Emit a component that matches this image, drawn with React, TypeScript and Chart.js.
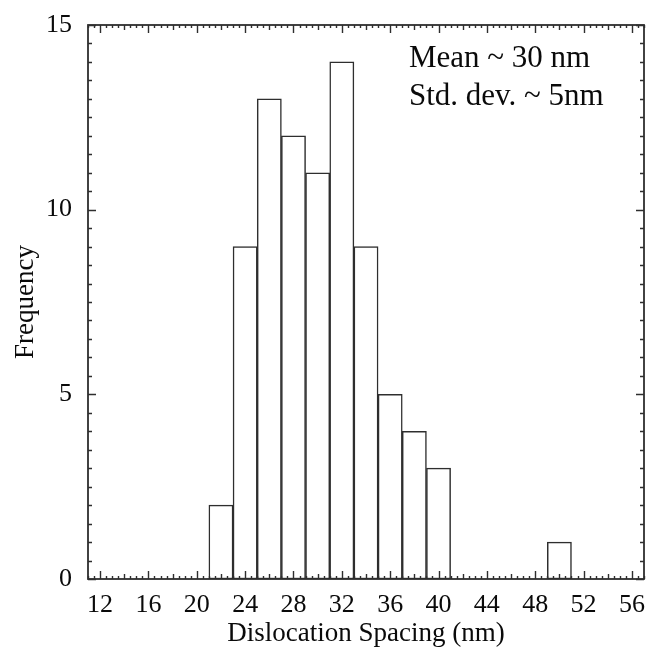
import React, { useEffect, useRef } from "react";
import { Chart, registerables } from "chart.js";

Chart.register(...registerables);

// ---- data ----
const BIN_CENTERS = [22, 24, 26, 28, 30, 32, 34, 36, 38, 40, 50];
const FREQUENCIES = [2, 9, 13, 12, 11, 14, 9, 5, 4, 3, 1];
const X_TICKS = [12, 16, 20, 24, 28, 32, 36, 40, 44, 48, 52, 56];
const Y_TICKS = [0, 5, 10, 15];
const X_MIN = 11;
const X_MAX = 57;
const Y_MIN = 0;
const Y_MAX = 15;
const X_TITLE = "Dislocation Spacing (nm)";
const Y_TITLE = "Frequency";
const NOTES = ["Mean ~ 30 nm", "Std. dev. ~ 5nm"];

const FONT = '"Liberation Serif", "Times New Roman", serif';
const INK = "#0a0a0a";
const LINE = "#2e2e2e";

const framePlugin = {
  id: "frameTicks",
  afterDraw(chart: any) {
    const { ctx, chartArea } = chart;
    const { left, right, top, bottom } = chartArea;
    const xs = chart.scales.x;
    const ys = chart.scales.y;
    ctx.save();
    ctx.strokeStyle = LINE;
    ctx.lineWidth = 1.8;
    ctx.strokeRect(left, top, right - left, bottom - top);

    ctx.lineWidth = 1.4;
    ctx.beginPath();
    for (let v = X_MIN; v <= X_MAX + 1e-9; v += 0.5) {
      const px = Math.round(xs.getPixelForValue(v)) + 0.5;
      const len = v % 4 === 0 ? 8 : v % 2 === 0 ? 5 : 3;
      ctx.moveTo(px, bottom);
      ctx.lineTo(px, bottom - len);
      ctx.moveTo(px, top);
      ctx.lineTo(px, top + len);
    }
    for (let v = Y_MIN; v <= Y_MAX + 1e-9; v += 0.5) {
      const py = Math.round(ys.getPixelForValue(v)) + 0.5;
      const len = v % 5 === 0 ? 8 : 4;
      ctx.moveTo(left, py);
      ctx.lineTo(left + len, py);
      ctx.moveTo(right, py);
      ctx.lineTo(right - len, py);
    }
    ctx.stroke();

    ctx.fillStyle = INK;
    ctx.font = `31px ${FONT}`;
    ctx.textAlign = "left";
    ctx.textBaseline = "alphabetic";
    ctx.fillText(NOTES[0], left + 321, top + 42);
    ctx.fillText(NOTES[1], left + 321, top + 80);
    ctx.restore();
  },
};

export default function App() {
  const ref = useRef<HTMLCanvasElement | null>(null);

  useEffect(() => {
    if (!ref.current) return;
    const chart = new Chart(ref.current, {
      type: "bar",
      data: {
        datasets: [
          {
            data: BIN_CENTERS.map((x, i) => ({ x, y: FREQUENCIES[i] })),
            backgroundColor: "#ffffff",
            borderColor: LINE,
            borderWidth: 1.5,
            borderSkipped: false,
            barPercentage: 1,
            categoryPercentage: 1,
          },
        ],
      },
      options: {
        responsive: false,
        animation: false,
        layout: { padding: { top: 25, right: 6, left: 0, bottom: 0 } },
        plugins: {
          legend: { display: false },
          tooltip: { enabled: false },
        },
        scales: {
          x: {
            type: "linear",
            offset: false,
            min: X_MIN,
            max: X_MAX,
            grid: { display: false, drawTicks: false },
            border: { display: false },
            afterBuildTicks: (s: any) => {
              s.ticks = X_TICKS.map((v) => ({ value: v }));
            },
            afterFit: (s: any) => {
              s.height = 71;
              s.paddingLeft = 0;
              s.paddingRight = 0;
            },
            ticks: {
              color: INK,
              font: { family: FONT, size: 26 },
              padding: 11,
              maxRotation: 0,
              autoSkip: false,
            },
            title: {
              display: true,
              text: X_TITLE,
              color: INK,
              font: { family: FONT, size: 27 },
              padding: { top: 0, bottom: 0 },
            },
          },
          y: {
            type: "linear",
            min: Y_MIN,
            max: Y_MAX,
            grid: { display: false, drawTicks: false },
            border: { display: false },
            afterBuildTicks: (s: any) => {
              s.ticks = Y_TICKS.map((v) => ({ value: v }));
            },
            afterFit: (s: any) => {
              s.width = 88;
              s.paddingTop = 0;
              s.paddingBottom = 0;
            },
            ticks: {
              color: INK,
              font: { family: FONT, size: 26 },
              padding: 16,
            },
            title: {
              display: true,
              text: Y_TITLE,
              color: INK,
              font: { family: FONT, size: 27 },
              padding: { top: 10, bottom: 0 },
            },
          },
        },
      },
      plugins: [framePlugin],
    } as any);
    return () => chart.destroy();
  }, []);

  return (
    <div style={{ position: "absolute", left: 0, top: 0, width: 650, height: 650, background: "#fff" }}>
      <canvas ref={ref} width={650} height={650} style={{ display: "block" }} />
    </div>
  );
}
